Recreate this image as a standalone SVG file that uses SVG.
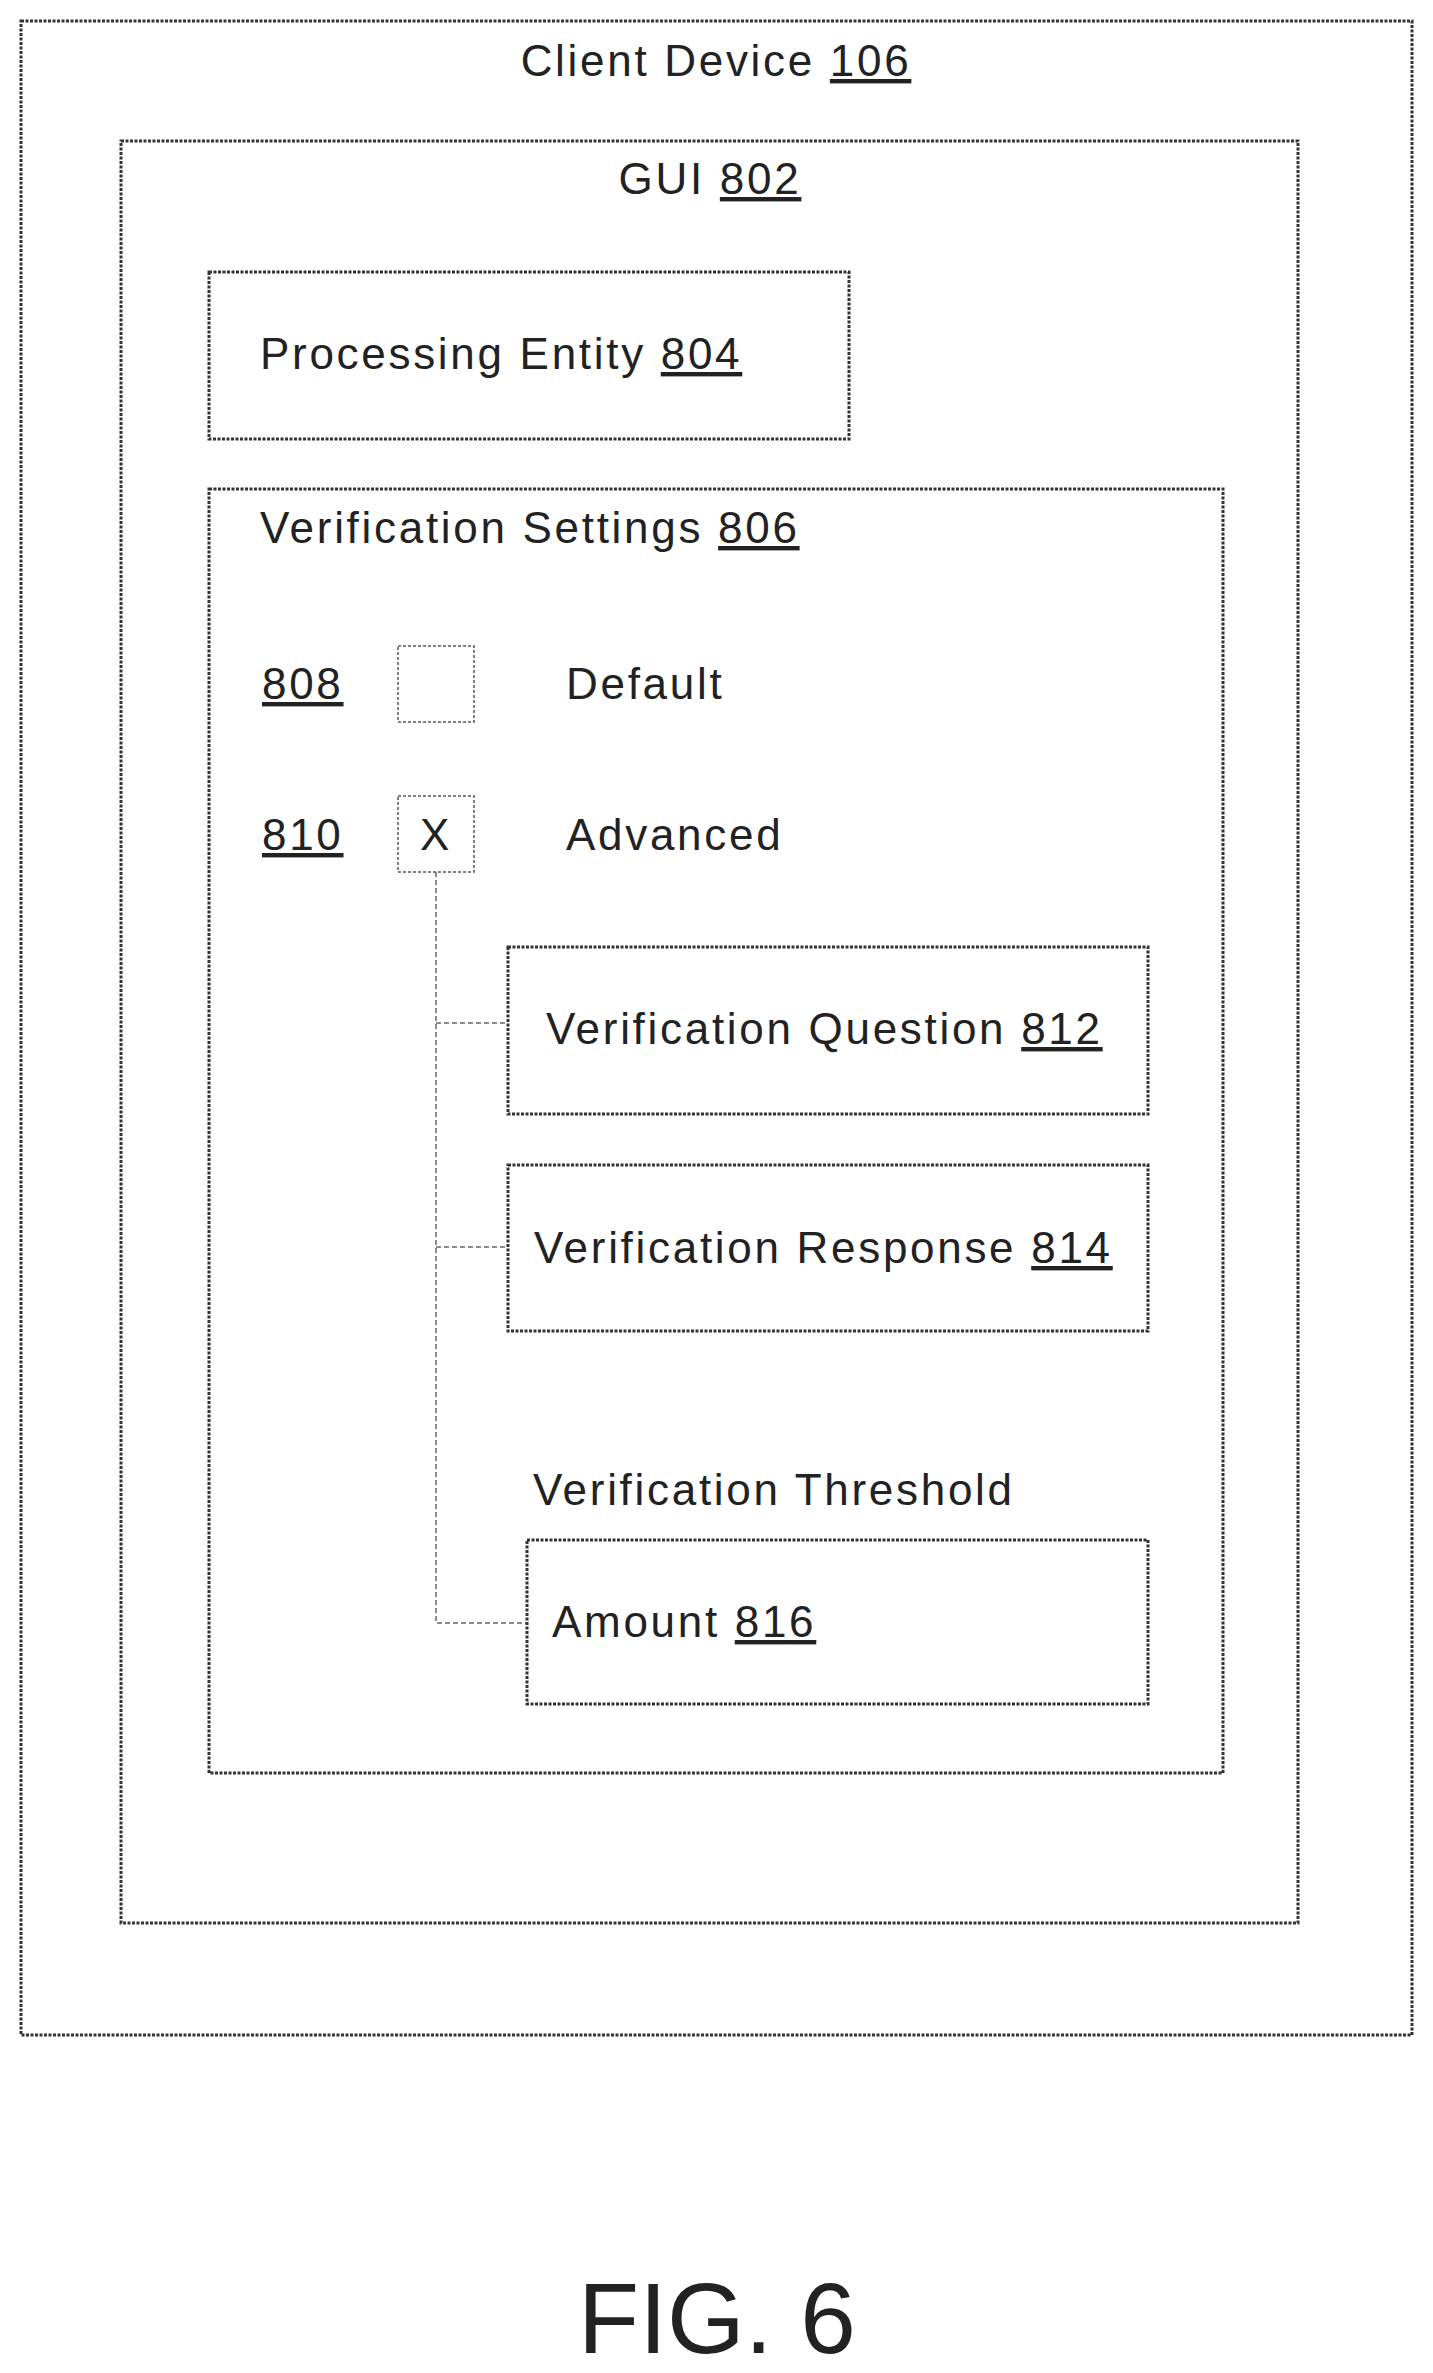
<svg xmlns="http://www.w3.org/2000/svg" width="1433" height="2373" viewBox="0 0 1433 2373">
<style>
.b{fill:none;stroke:#333;stroke-width:3;stroke-dasharray:3 1.5}
.cb{fill:none;stroke:#555;stroke-width:1.5;stroke-dasharray:3 2}
.c{fill:none;stroke:#666;stroke-width:1.5;stroke-dasharray:5 3}
text{font-family:"Liberation Sans",Arial,sans-serif;font-size:44px;fill:#222;letter-spacing:2.7px}
.u{text-decoration:underline}
</style>
<rect width="1433" height="2373" fill="#fff"/>
<g id="client"><rect class="b" x="21" y="21" width="1391" height="2014"/><text x="716" y="76" text-anchor="middle">Client Device <tspan class="u">106</tspan></text></g>
<g id="gui"><rect class="b" x="121" y="141" width="1177" height="1782"/><text x="710" y="194" text-anchor="middle">GUI <tspan class="u">802</tspan></text></g>
<g id="proc"><rect class="b" x="209" y="272" width="640" height="167"/><text x="260" y="369">Processing Entity <tspan class="u">804</tspan></text></g>
<g id="settings"><rect class="b" x="209" y="489" width="1014" height="1284"/><text x="260" y="543">Verification Settings <tspan class="u">806</tspan></text></g>
<g id="default"><text x="262" y="699" class="u">808</text><rect class="cb" x="398" y="646" width="76" height="76"/><text x="566" y="699">Default</text></g>
<g id="advanced"><text x="262" y="850" class="u">810</text><rect class="cb" x="398" y="796" width="76" height="76"/><text x="436" y="850" text-anchor="middle">X</text><text x="566" y="850">Advanced</text></g>
<g id="connectors"><path class="c" d="M436 872V1623H527M436 1023H508M436 1247H508"/></g>
<g id="question"><rect class="b" x="508" y="947" width="640" height="167"/><text x="546" y="1044">Verification Question <tspan class="u">812</tspan></text></g>
<g id="response"><rect class="b" x="508" y="1165" width="640" height="166"/><text x="534" y="1263">Verification Response <tspan class="u">814</tspan></text></g>
<g id="threshold"><text x="533" y="1505">Verification Threshold</text><rect class="b" x="527" y="1540" width="621" height="164"/><text x="552" y="1637">Amount <tspan class="u">816</tspan></text></g>
<text x="717" y="2353" text-anchor="middle" style="font-size:100px;letter-spacing:0">FIG. 6</text>
</svg>
